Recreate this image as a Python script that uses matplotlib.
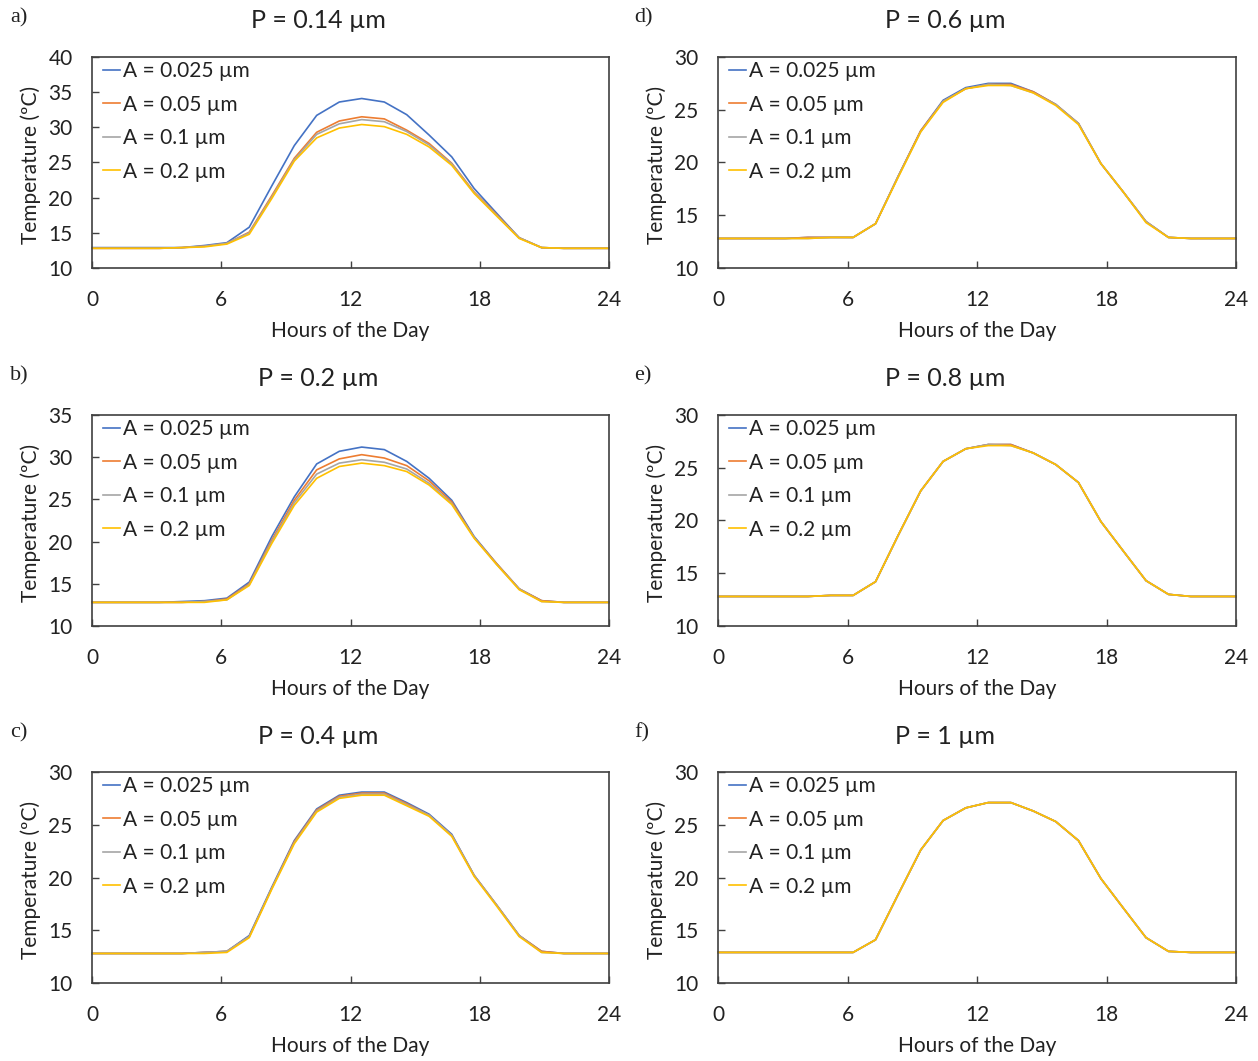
import matplotlib
matplotlib.use('Agg')
import matplotlib.pyplot as plt

plt.rcParams['font.family'] = ['Lato', 'DejaVu Sans']

# ---------------- data ----------------
hours = [0.0, 1.04, 2.09, 3.13, 4.17, 5.22, 6.26, 7.30, 8.35, 9.39, 10.43, 11.48,
         12.52, 13.57, 14.61, 15.65, 16.70, 17.74, 18.78, 19.83, 20.87, 21.91, 22.96, 24.0]

series_labels = ['A = 0.025 µm', 'A = 0.05 µm', 'A = 0.1 µm', 'A = 0.2 µm']
series_colors = ['#4472C4', '#ED7D31', '#A5A5A5', '#FFC000']

panel_letters = ['a)', 'b)', 'c)', 'd)', 'e)', 'f)']
panel_titles = ['P = 0.14 µm', 'P = 0.2 µm', 'P = 0.4 µm', 'P = 0.6 µm', 'P = 0.8 µm', 'P = 1 µm']
panel_ymax = [40, 35, 30, 30, 30, 30]
x_ticks = [0, 6, 12, 18, 24]

# P = 0.14
a_025 = [12.9, 12.9, 12.9, 12.9, 12.9, 13.2, 13.6, 15.8, 21.7, 27.4, 31.7, 33.6, 34.1, 33.6, 31.8, 28.9, 25.8, 21.3, 17.8, 14.3, 12.9, 12.8, 12.8, 12.8]
a_05 = [12.8, 12.8, 12.8, 12.8, 12.9, 13.1, 13.5, 15.1, 20.3, 25.6, 29.3, 30.9, 31.5, 31.2, 29.6, 27.7, 24.9, 20.8, 17.6, 14.3, 12.9, 12.8, 12.8, 12.8]
a_1 = [12.8, 12.8, 12.8, 12.8, 12.9, 13.1, 13.5, 15.0, 20.1, 25.4, 29.0, 30.5, 31.1, 30.8, 29.4, 27.5, 24.8, 20.7, 17.5, 14.3, 12.9, 12.8, 12.8, 12.8]
a_2 = [12.8, 12.8, 12.8, 12.8, 12.9, 13.0, 13.4, 14.8, 19.9, 25.2, 28.5, 29.9, 30.4, 30.1, 29.0, 27.2, 24.6, 20.6, 17.4, 14.2, 12.9, 12.8, 12.8, 12.8]
# P = 0.2
b_025 = [12.8, 12.8, 12.8, 12.8, 12.9, 13.0, 13.3, 15.2, 20.6, 25.3, 29.2, 30.7, 31.2, 30.9, 29.5, 27.5, 24.9, 20.6, 17.4, 14.4, 13.0, 12.8, 12.8, 12.8]
b_05 = [12.8, 12.8, 12.8, 12.8, 12.8, 12.9, 13.2, 15.0, 20.2, 24.9, 28.5, 29.8, 30.3, 29.9, 29.0, 27.2, 24.7, 20.5, 17.4, 14.4, 13.0, 12.8, 12.8, 12.8]
b_1 = [12.8, 12.8, 12.8, 12.8, 12.8, 12.9, 13.1, 14.9, 20.0, 24.6, 28.0, 29.3, 29.7, 29.4, 28.6, 26.9, 24.5, 20.5, 17.3, 14.4, 12.9, 12.8, 12.8, 12.8]
b_2 = [12.8, 12.8, 12.8, 12.8, 12.8, 12.8, 13.1, 14.8, 19.8, 24.3, 27.5, 28.9, 29.3, 29.0, 28.3, 26.7, 24.4, 20.4, 17.3, 14.3, 12.9, 12.8, 12.8, 12.8]
# P = 0.4
c_025 = [12.8, 12.8, 12.8, 12.8, 12.8, 12.9, 13.0, 14.5, 19.1, 23.5, 26.5, 27.8, 28.1, 28.1, 27.1, 26.0, 24.1, 20.2, 17.4, 14.5, 13.0, 12.8, 12.8, 12.8]
c_05 = [12.8, 12.8, 12.8, 12.8, 12.8, 12.9, 13.0, 14.4, 19.0, 23.4, 26.4, 27.7, 28.0, 28.0, 27.0, 25.9, 24.0, 20.2, 17.4, 14.5, 13.0, 12.8, 12.8, 12.8]
c_1 = [12.8, 12.8, 12.8, 12.8, 12.8, 12.9, 13.0, 14.4, 19.0, 23.3, 26.3, 27.6, 27.9, 27.9, 26.9, 25.9, 24.0, 20.2, 17.4, 14.5, 12.9, 12.8, 12.8, 12.8]
c_2 = [12.8, 12.8, 12.8, 12.8, 12.8, 12.8, 12.9, 14.3, 18.9, 23.2, 26.2, 27.5, 27.8, 27.8, 26.8, 25.8, 23.9, 20.1, 17.3, 14.4, 12.9, 12.8, 12.8, 12.8]
# P = 0.6
d_025 = [12.8, 12.8, 12.8, 12.8, 12.9, 12.9, 12.9, 14.2, 18.7, 23.0, 25.9, 27.1, 27.5, 27.5, 26.7, 25.5, 23.7, 19.9, 17.2, 14.4, 12.9, 12.8, 12.8, 12.8]
d_05 = [12.8, 12.8, 12.8, 12.8, 12.9, 12.9, 12.9, 14.2, 18.7, 23.0, 25.8, 27.0, 27.4, 27.4, 26.7, 25.5, 23.7, 19.9, 17.2, 14.4, 12.9, 12.8, 12.8, 12.8]
d_1 = [12.8, 12.8, 12.8, 12.8, 12.8, 12.9, 12.9, 14.2, 18.7, 22.9, 25.8, 27.0, 27.4, 27.3, 26.6, 25.5, 23.7, 19.9, 17.2, 14.4, 12.9, 12.8, 12.8, 12.8]
d_2 = [12.8, 12.8, 12.8, 12.8, 12.8, 12.9, 12.9, 14.2, 18.6, 22.9, 25.7, 27.0, 27.3, 27.3, 26.6, 25.4, 23.6, 19.9, 17.2, 14.3, 12.9, 12.8, 12.8, 12.8]
# P = 0.8
e_025 = [12.8, 12.8, 12.8, 12.8, 12.8, 12.9, 12.9, 14.2, 18.6, 22.8, 25.6, 26.8, 27.2, 27.2, 26.4, 25.3, 23.6, 19.9, 17.1, 14.3, 13.0, 12.8, 12.8, 12.8]
e_05 = [12.8, 12.8, 12.8, 12.8, 12.8, 12.9, 12.9, 14.2, 18.6, 22.8, 25.6, 26.8, 27.2, 27.2, 26.4, 25.3, 23.6, 19.9, 17.1, 14.3, 13.0, 12.8, 12.8, 12.8]
e_1 = [12.8, 12.8, 12.8, 12.8, 12.8, 12.9, 12.9, 14.2, 18.6, 22.8, 25.6, 26.8, 27.2, 27.1, 26.4, 25.3, 23.6, 19.9, 17.1, 14.3, 13.0, 12.8, 12.8, 12.8]
e_2 = [12.8, 12.8, 12.8, 12.8, 12.8, 12.9, 12.9, 14.2, 18.6, 22.8, 25.6, 26.8, 27.1, 27.1, 26.4, 25.3, 23.6, 19.9, 17.1, 14.3, 13.0, 12.8, 12.8, 12.8]
# P = 1
f_025 = [12.9, 12.9, 12.9, 12.9, 12.9, 12.9, 12.9, 14.1, 18.4, 22.6, 25.4, 26.6, 27.1, 27.1, 26.3, 25.3, 23.5, 19.9, 17.1, 14.3, 13.0, 12.9, 12.9, 12.9]
f_05 = [12.9, 12.9, 12.9, 12.9, 12.9, 12.9, 12.9, 14.1, 18.4, 22.6, 25.4, 26.6, 27.1, 27.1, 26.3, 25.3, 23.5, 19.9, 17.1, 14.3, 13.0, 12.9, 12.9, 12.9]
f_1 = [12.9, 12.9, 12.9, 12.9, 12.9, 12.9, 12.9, 14.1, 18.4, 22.6, 25.4, 26.6, 27.1, 27.1, 26.3, 25.3, 23.5, 19.9, 17.1, 14.3, 13.0, 12.9, 12.9, 12.9]
f_2 = [12.9, 12.9, 12.9, 12.9, 12.9, 12.9, 12.9, 14.1, 18.4, 22.6, 25.4, 26.6, 27.1, 27.1, 26.3, 25.3, 23.5, 19.9, 17.1, 14.3, 13.0, 12.9, 12.9, 12.9]

panel_data = [
    [a_025, a_05, a_1, a_2],
    [b_025, b_05, b_1, b_2],
    [c_025, c_05, c_1, c_2],
    [d_025, d_05, d_1, d_2],
    [e_025, e_05, e_1, e_2],
    [f_025, f_05, f_1, f_2],
]

# ---------------- layout ----------------
W, H = 1258, 1061
fig = plt.figure(figsize=(W / 100, H / 100), dpi=100)

cols = [(92, 609), (718, 1236)]
rows = [(57, 268), (415, 626), (772, 983)]

def rect(l, r, t, b):
    return [l / W, 1 - b / H, (r - l) / W, (b - t) / H]

def fx(px):
    return px / W

def fy(py):
    return 1 - py / H

spine_col = '#404040'
txt_col = '#222222'
fs = 15

for k in range(6):
    ci, ri = divmod(k, 3)
    l, r = cols[ci]
    t, b = rows[ri]
    ax = fig.add_axes(rect(l, r, t, b))
    for vals, lab, col in zip(panel_data[k], series_labels, series_colors):
        ax.plot(hours, vals, color=col, lw=1.2, label=lab, clip_on=False)
    ax.set_xlim(0, 24)
    ax.set_ylim(10, panel_ymax[k])
    ax.set_xticks(x_ticks)
    ax.set_yticks(list(range(10, panel_ymax[k] + 1, 5)))
    ax.tick_params(axis='both', direction='in', length=5, width=1.0,
                   colors=spine_col, labelcolor=txt_col, labelsize=fs)
    ax.tick_params(axis='x', pad=15.5)
    ax.tick_params(axis='y', pad=14)
    for s in ax.spines.values():
        s.set_color(spine_col)
        s.set_linewidth(1.2)
    leg = ax.legend(loc='upper left', bbox_to_anchor=(11 / (r - l), 1 - 4 / (b - t)),
                    frameon=False, fontsize=fs, handlelength=0.82, handletextpad=0.15,
                    labelspacing=0.65, borderaxespad=0.0, borderpad=0.0)
    for txt in leg.get_texts():
        txt.set_color(txt_col)

    cx = (l + r) / 2
    # title
    fig.text(fx(cx - 32), fy(t - 36), panel_titles[k], ha='center', va='center',
             fontsize=18, color=txt_col)
    # panel letter
    fig.text(fx(l - 82 if ci == 0 else l - 84), fy(t - 39), panel_letters[k],
             ha='left', va='center', fontsize=16, color=txt_col,
             family=['Liberation Serif', 'DejaVu Serif'])
    # y label
    fig.text(fx(l - 61), fy((t + b) / 2 + 2), 'Temperature (ºC)', rotation=90,
             ha='center', va='center', fontsize=fs, color=txt_col)
    # x label
    fig.text(fx(cx), fy(b + 63), 'Hours of the Day', ha='center', va='center',
             fontsize=fs, color=txt_col)

fig.savefig('out.png', dpi=100, facecolor='white')
